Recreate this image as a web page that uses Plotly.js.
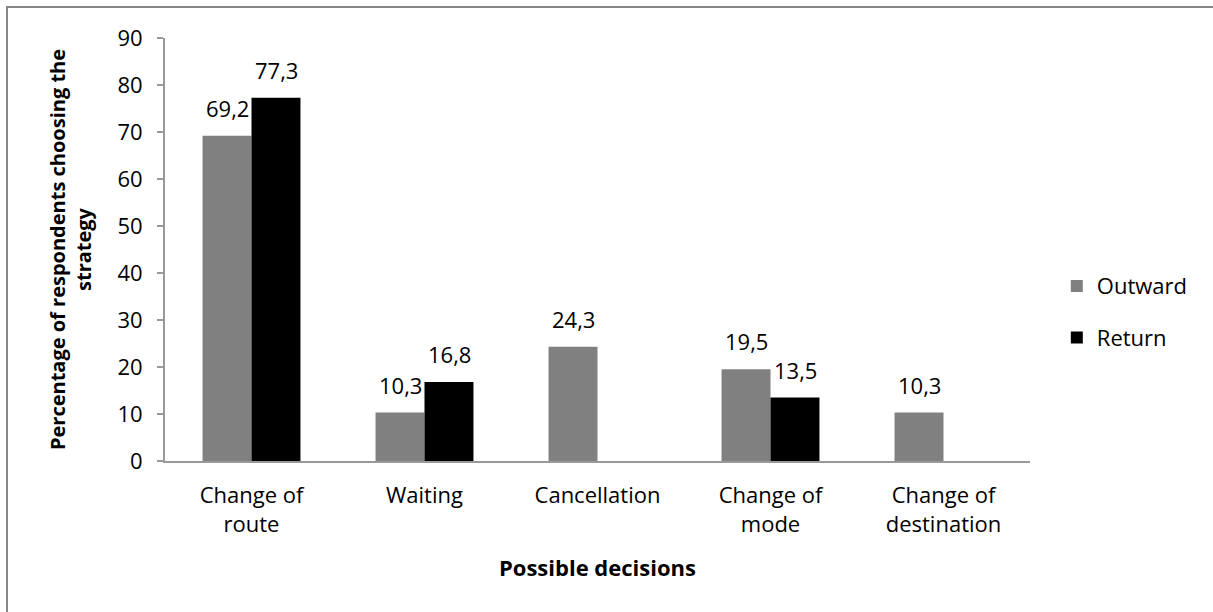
<!DOCTYPE html>
<html>
<head>
<meta charset="utf-8">
<script src="https://cdn.plot.ly/plotly-3.0.1.min.js"></script>
<style>
html,body{margin:0;padding:0;overflow:hidden;background:#fff;}
#chart{width:1213px;height:612px;}
#frame{position:absolute;left:6px;top:6px;width:1400px;height:800px;border:2px solid #878787;pointer-events:none;}
</style>
</head>
<body>
<div id="chart"></div>
<div id="frame"></div>
<script>
const categories = ["Change of<br>route", "Waiting", "Cancellation", "Change of<br>mode", "Change of<br>destination"];
const outwardValues = [69.2, 10.3, 24.3, 19.5, 10.3];
const returnValues = [77.3, 16.8, null, 13.5, null];
const yTicks = [0, 10, 20, 30, 40, 50, 60, 70, 80, 90];

const FONT = "'Open Sans', 'Noto Sans', sans-serif";

const traces = [
  {
    type: "bar", name: "Outward", x: categories, y: outwardValues, legendgroup: "a",
    marker: {color: "#808080", line: {width: 0}}
  },
  {
    type: "bar", name: "Return", x: categories, y: returnValues, legendgroup: "b",
    marker: {color: "#000000", line: {width: 0}}
  }
];

// data labels placed above each bar (bar half-width offset within the group)
const HALF = 24.5;
const annotations = [];
function addLabels(vals, dx) {
  vals.forEach((v, i) => {
    if (v === null) return;
    annotations.push({
      x: categories[i], y: v, xref: "x", yref: "y",
      text: v.toFixed(1).replace(".", ","), showarrow: false,
      xshift: dx, yshift: 11, yanchor: "bottom", xanchor: "center",
      font: {family: FONT, size: 22, color: "#000"}
    });
  });
}
addLabels(outwardValues, -HALF);
addLabels(returnValues, HALF);

const layout = {
  width: 1213, height: 612,
  margin: {l: 165, r: 183, t: 38, b: 151},
  paper_bgcolor: "#fff", plot_bgcolor: "#fff",
  separators: ",.",
  font: {family: FONT, size: 22, color: "#000"},
  barmode: "group", bargap: 0.434, bargroupgap: 0,
  showlegend: true,
  annotations: annotations,
  legend: {x: 1.031, xanchor: "left", y: 0.352, yanchor: "middle",
           font: {family: FONT, size: 22, color: "#000"}, tracegroupgap: 20},
  xaxis: {
    type: "category",
    showline: true, linecolor: "#999", linewidth: 2,
    ticks: "outside", ticklen: 14, tickcolor: "rgba(0,0,0,0)", showgrid: false, zeroline: false,
    tickfont: {family: FONT, size: 22, color: "#000"},
    title: {text: "<b>Possible decisions</b>", font: {family: FONT, size: 22, color: "#000"}, standoff: 24}
  },
  yaxis: {
    range: [0, 90], tickvals: yTicks, ticktext: yTicks.map(String),
    showline: true, linecolor: "#999", linewidth: 2,
    ticks: "outside", ticklen: 6, tickcolor: "#999", tickwidth: 2, ticklabelstandoff: 10,
    showgrid: false, zeroline: false,
    tickfont: {family: FONT, size: 22, color: "#000"},
    title: {text: "<b>Percentage of respondents choosing the<br>strategy</b>", font: {family: FONT, size: 20, color: "#000"}, standoff: 20}
  }
};

Plotly.newPlot("chart", traces, layout, {displayModeBar: false, staticPlot: true});
</script>
</body>
</html>
